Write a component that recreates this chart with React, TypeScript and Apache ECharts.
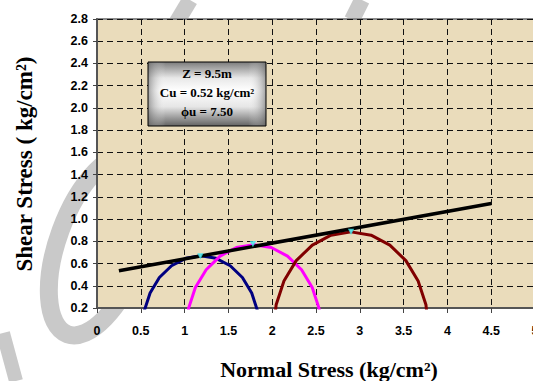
import React, { useEffect, useRef } from "react";
import * as echarts from "echarts";

// Axis ranges (kg/cm²)
const xMin = 0;
const xMax = 5;
const xStep = 0.5;
const yMin = 0.2;
const yMax = 2.8;
const yStep = 0.2;

// Mohr circles [normal stress, shear stress]
const circleA: number[][] = [
  [0.516, 0], [0.539, 0.173], [0.606, 0.335], [0.712, 0.474], [0.851, 0.58],
  [1.013, 0.647], [1.186, 0.67], [1.359, 0.647], [1.521, 0.58], [1.66, 0.474],
  [1.766, 0.335], [1.833, 0.173], [1.856, 0],
];
const circleB: number[][] = [
  [1.02, 0], [1.046, 0.199], [1.123, 0.385], [1.246, 0.544], [1.405, 0.667],
  [1.591, 0.744], [1.79, 0.77], [1.989, 0.744], [2.175, 0.667], [2.335, 0.544],
  [2.457, 0.385], [2.534, 0.199], [2.56, 0],
];
const circleC: number[][] = [
  [2.015, 0], [2.045, 0.229], [2.134, 0.443], [2.274, 0.626], [2.458, 0.766],
  [2.671, 0.855], [2.9, 0.885], [3.129, 0.855], [3.343, 0.766], [3.526, 0.626],
  [3.666, 0.443], [3.755, 0.229], [3.785, 0],
];
// Failure envelope
const envelope: number[][] = [
  [0.25, 0.535],
  [4.5, 1.14],
];
// Circle tops (small cyan markers)
const circleTops: number[][] = [
  [1.18, 0.67],
  [1.78, 0.78],
  [2.9, 0.89],
];

const infoLines = ["Z = 9.5m", "Cu = 0.52 kg/cm²", "ϕu = 7.50"];
const xTitle = "Normal Stress (kg/cm²)";
const yTitle = "Shear Stress ( kg/cm²)";

export default function App() {
  const ref = useRef<HTMLDivElement>(null);

  useEffect(() => {
    if (!ref.current) return;
    const chart = echarts.init(ref.current, undefined, { renderer: "svg" });

    const arcSeries = (name: string, data: number[][], color: string) => ({
      name,
      type: "line",
      data,
      showSymbol: false,
      symbol: "none",
      clip: true,
      lineStyle: { color, width: 3 },
      itemStyle: { color },
      z: 3,
    });

    const tickFont = {
      fontFamily: "Liberation Sans, Arial, sans-serif",
      fontWeight: "bold" as const,
      fontSize: 12.5,
      color: "#000",
    };

    const serif = "'Liberation Serif', 'Times New Roman', serif";

    chart.setOption({
      animation: false,
      grid: {
        left: 97,
        top: 19,
        width: 438,
        height: 289,
        outerBoundsMode: "none",
        containLabel: false,
        show: true,
        backgroundColor: "#EADCBB",
        borderColor: "#8a8a8a",
        borderWidth: 2,
      },
      xAxis: {
        type: "value",
        min: xMin,
        max: xMax,
        interval: xStep,
        axisLine: { show: true, lineStyle: { color: "#555", width: 2 } },
        axisTick: { show: true, length: 5, lineStyle: { color: "#444", width: 1 } },
        axisLabel: { ...tickFont, margin: 16 },
        splitLine: {
          show: true,
          lineStyle: { color: "#111", width: 1, type: [6, 4] },
        },
      },
      yAxis: {
        type: "value",
        min: yMin,
        max: yMax,
        interval: yStep,
        axisLine: { show: true, lineStyle: { color: "#555", width: 2 } },
        axisTick: { show: true, length: 4, lineStyle: { color: "#444", width: 1 } },
        axisLabel: {
          ...tickFont,
          margin: 9,
          formatter: (v: number) => v.toFixed(1),
        },
        splitLine: {
          show: true,
          lineStyle: { color: "#111", width: 1, type: [6, 4] },
        },
      },
      series: [
        arcSeries("Circle 1", circleA, "#000080"),
        arcSeries("Circle 2", circleB, "#FF00FF"),
        arcSeries("Circle 3", circleC, "#800000"),
        {
          name: "Envelope",
          type: "line",
          data: envelope,
          showSymbol: false,
          symbol: "none",
          lineStyle: { color: "#000", width: 3.5 },
          z: 4,
        },
        {
          name: "Tops",
          type: "scatter",
          data: circleTops,
          symbol: "emptyTriangle",
          symbolRotate: 180,
          symbolSize: 3,
          itemStyle: { color: "#3FE8F0", borderColor: "#3FE8F0", borderWidth: 0.8 },
          z: 5,
        },
      ],
      graphic: [
        // watermark (behind the plot)
        {
          type: "ellipse",
          x: 100,
          y: 245,
          rotation: -0.35,
          z: -10,
          shape: { cx: 0, cy: 0, rx: 42, ry: 95 },
          style: { fill: "none", stroke: "#c9c9c9", lineWidth: 18 },
        },
        {
          type: "line",
          z: -10,
          shape: { x1: 3, y1: 333, x2: 16, y2: 381 },
          style: { stroke: "#c9c9c9", lineWidth: 14 },
        },
        {
          type: "line",
          z: -10,
          shape: { x1: 190, y1: 0, x2: 172, y2: 30 },
          style: { stroke: "#c9c9c9", lineWidth: 16 },
        },
        {
          type: "line",
          z: -10,
          shape: { x1: 362, y1: 0, x2: 352, y2: 20 },
          style: { stroke: "#c9c9c9", lineWidth: 16 },
        },
        // axis titles
        {
          type: "text",
          x: 329,
          y: 369,
          style: {
            text: xTitle,
            font: `bold 22px ${serif}`,
            fill: "#000",
            textAlign: "center",
            textVerticalAlign: "middle",
          },
        },
        {
          type: "text",
          x: 24,
          y: 164,
          rotation: Math.PI / 2,
          style: {
            text: yTitle,
            font: `bold 23px ${serif}`,
            fill: "#000",
            textAlign: "center",
            textVerticalAlign: "middle",
          },
        },
        // info box
        {
          type: "rect",
          z: 100,
          shape: { x: 148, y: 62, width: 118, height: 64 },
          style: {
            fill: {
              type: "linear",
              x: 0,
              y: 0,
              x2: 0,
              y2: 1,
              colorStops: [
                { offset: 0, color: "#7c7c7c" },
                { offset: 0.25, color: "#e8e8e8" },
                { offset: 0.45, color: "#ffffff" },
                { offset: 0.7, color: "#e6e6e6" },
                { offset: 1, color: "#626262" },
              ],
            },
            stroke: "none",
          },
        },
        {
          type: "rect",
          z: 101,
          shape: { x: 148, y: 62, width: 118, height: 64 },
          style: {
            fill: {
              type: "linear",
              x: 0,
              y: 0,
              x2: 1,
              y2: 0,
              colorStops: [
                { offset: 0, color: "rgba(100,100,100,0.6)" },
                { offset: 0.15, color: "rgba(255,255,255,0)" },
                { offset: 0.85, color: "rgba(255,255,255,0)" },
                { offset: 1, color: "rgba(100,100,100,0.6)" },
              ],
            },
            stroke: "#000",
            lineWidth: 1,
          },
        },
        ...infoLines.map((t, i) => ({
          type: "text",
          z: 102,
          x: 207,
          y: 73.5 + i * 19,
          style: {
            text: t,
            font: `bold 13px ${serif}`,
            fill: "#000",
            textAlign: "center",
            textVerticalAlign: "middle",
          },
        })),
      ],
    });

    return () => chart.dispose();
  }, []);

  return (
    <div
      ref={ref}
      style={{ position: "fixed", left: 0, top: 0, width: 533, height: 381, background: "#fff" }}
    />
  );
}
